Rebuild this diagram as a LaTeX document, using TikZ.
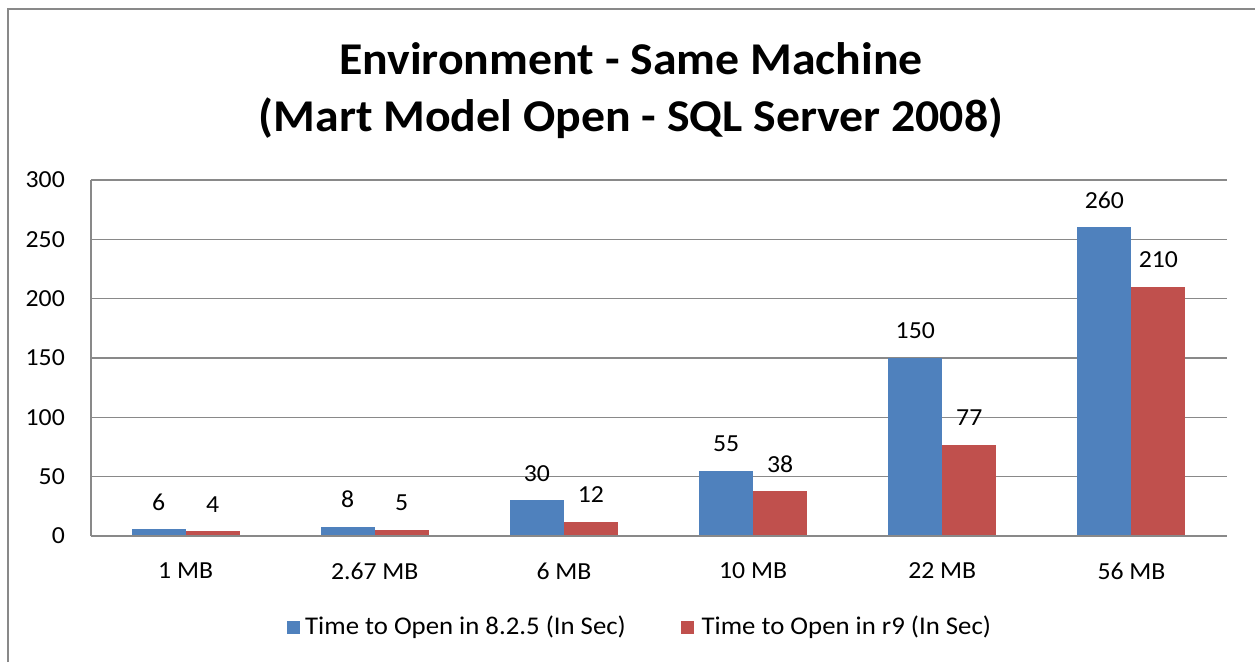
\documentclass[tikz,border=0pt]{standalone}
\usepackage{fontspec}
\setmainfont[FakeStretch=1.05]{Carlito}
\usepackage{xcolor}
\usetikzlibrary{positioning}

\definecolor{serA}{HTML}{4F81BD}
\definecolor{serB}{HTML}{C0504D}
\definecolor{gridgray}{HTML}{898989}

\begin{document}
\begin{tikzpicture}[
    x=1pt, y=-1pt,
    grid/.style={draw=gridgray, line width=1.5pt},
    frame/.style={draw=gridgray, line width=2pt},
    lbl/.style={font=\fontsize{24.5}{29}\selectfont, inner sep=0pt},
    legtext/.style={font=\fontsize{25.5}{30}\selectfont, inner sep=0pt},
    titletext/.style={font=\fontsize{45.5}{55}\selectfont\bfseries, inner sep=0pt, anchor=base},
    legbox/.style={minimum size=13pt, inner sep=0pt}
]
\useasboundingbox (0,0) rectangle (1255,662);

% chart frame (left and top edges only)
\draw[frame] (8,662) -- (8,9) -- (1255,9);

% title
\node[titletext] (title1) at (631,74.3) {Environment - Same Machine};
\node[titletext, yshift=-57.4pt] (title2) at (title1.base) {(Mart Model Open - SQL Server 2008)};

% gridlines and value axis
\foreach \v in {0,50,...,300}{
    \draw[grid] (91,{536-1.18667*\v}) -- (1227,{536-1.18667*\v});
    \node[lbl, anchor=east] (tick\v) at (65,{536-1.18667*\v}) {\v};
}
\draw[grid] (91,180) -- (91,536);

% bars
\foreach \cat/\a/\b [count=\i] in {1 MB/6/4, 2.67 MB/8/5, 6 MB/30/12, 10 MB/55/38, 22 MB/150/77, 56 MB/260/210}{
    \pgfmathsetmacro{\c}{91+189.17*(\i-0.5)}
    \fill[serA] ({\c-54},{536-1.18667*\a}) rectangle (\c,535);
    \fill[serB] (\c,{536-1.18667*\b}) rectangle ({\c+54},535);
    \node[lbl] (va\i) at ({\c-27},{536-1.18667*\a-27}) {\a};
    \node[lbl] (vb\i) at ({\c+27},{536-1.18667*\b-27}) {\b};
    \node[lbl] (cat\i) at (\c,571) {\cat};
}
\draw[grid] (91,536) -- (1227,536);

% legend
\node[legtext, anchor=west] (legA) at (305,627) {Time to Open in 8.2.5 (In Sec)};
\node[legbox, fill=serA, left=5pt of legA] (boxA) {};
\node[legbox, fill=serB, right=55pt of legA] (boxB) {};
\node[legtext, right=7pt of boxB] (legB) {Time to Open in r9 (In Sec)};
\end{tikzpicture}
\end{document}
